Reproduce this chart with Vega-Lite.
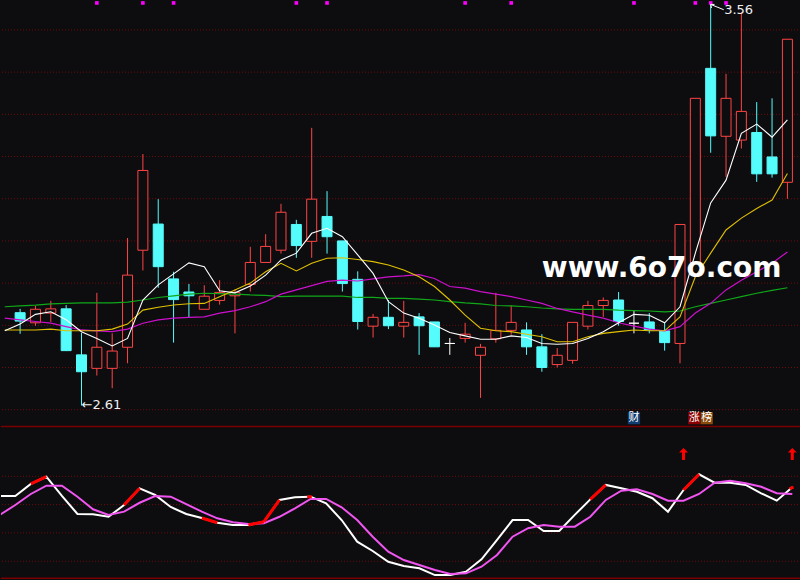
{
  "$schema": "https://vega.github.io/schema/vega-lite/v6.json",
  "background": "#0d0d10",
  "padding": 0,
  "spacing": 0,
  "bounds": "flush",
  "config": {"view": {"stroke": null}, "concat": {"spacing": 0}},
  "datasets": {
    "k": [
      {"i":0,"o":2.830,"h":2.839,"l":2.780,"c":2.810},
      {"i":1,"o":2.806,"h":2.846,"l":2.799,"c":2.838},
      {"i":2,"o":2.829,"h":2.858,"l":2.808,"c":2.839},
      {"i":3,"o":2.839,"h":2.848,"l":2.739,"c":2.740},
      {"i":4,"o":2.730,"h":2.782,"l":2.610,"c":2.690},
      {"i":5,"o":2.698,"h":2.877,"l":2.681,"c":2.748},
      {"i":6,"o":2.698,"h":2.781,"l":2.651,"c":2.739},
      {"i":7,"o":2.748,"h":3.007,"l":2.710,"c":2.919},
      {"i":8,"o":2.978,"h":3.206,"l":2.930,"c":3.167},
      {"i":9,"o":3.040,"h":3.099,"l":2.889,"c":2.939},
      {"i":10,"o":2.910,"h":2.927,"l":2.759,"c":2.861},
      {"i":11,"o":2.879,"h":2.898,"l":2.819,"c":2.870},
      {"i":12,"o":2.838,"h":2.895,"l":2.838,"c":2.869},
      {"i":13,"o":2.859,"h":2.907,"l":2.849,"c":2.878},
      {"i":14,"o":2.870,"h":2.885,"l":2.781,"c":2.878},
      {"i":15,"o":2.897,"h":2.986,"l":2.880,"c":2.949},
      {"i":16,"o":2.949,"h":3.016,"l":2.949,"c":2.987},
      {"i":17,"o":2.978,"h":3.088,"l":2.970,"c":3.068},
      {"i":18,"o":3.039,"h":3.050,"l":2.960,"c":2.989},
      {"i":19,"o":2.999,"h":3.268,"l":2.960,"c":3.099},
      {"i":20,"o":3.058,"h":3.118,"l":2.970,"c":3.010},
      {"i":21,"o":3.000,"h":3.000,"l":2.880,"c":2.899},
      {"i":22,"o":2.909,"h":2.928,"l":2.790,"c":2.809},
      {"i":23,"o":2.798,"h":2.827,"l":2.771,"c":2.819},
      {"i":24,"o":2.819,"h":2.860,"l":2.791,"c":2.799},
      {"i":25,"o":2.798,"h":2.858,"l":2.771,"c":2.807},
      {"i":26,"o":2.820,"h":2.829,"l":2.730,"c":2.799},
      {"i":27,"o":2.808,"h":2.808,"l":2.749,"c":2.749},
      {"i":28,"o":2.757,"h":2.770,"l":2.730,"c":2.757},
      {"i":29,"o":2.769,"h":2.806,"l":2.759,"c":2.779},
      {"i":30,"o":2.729,"h":2.756,"l":2.628,"c":2.748},
      {"i":31,"o":2.768,"h":2.877,"l":2.759,"c":2.788},
      {"i":32,"o":2.788,"h":2.847,"l":2.778,"c":2.807},
      {"i":33,"o":2.789,"h":2.807,"l":2.730,"c":2.749},
      {"i":34,"o":2.749,"h":2.779,"l":2.690,"c":2.700},
      {"i":35,"o":2.707,"h":2.746,"l":2.700,"c":2.729},
      {"i":36,"o":2.717,"h":2.807,"l":2.709,"c":2.807},
      {"i":37,"o":2.798,"h":2.858,"l":2.790,"c":2.847},
      {"i":38,"o":2.847,"h":2.866,"l":2.820,"c":2.859},
      {"i":39,"o":2.860,"h":2.879,"l":2.799,"c":2.809},
      {"i":40,"o":2.805,"h":2.836,"l":2.781,"c":2.805},
      {"i":41,"o":2.808,"h":2.829,"l":2.781,"c":2.789},
      {"i":42,"o":2.787,"h":2.806,"l":2.740,"c":2.759},
      {"i":43,"o":2.757,"h":3.039,"l":2.710,"c":3.039},
      {"i":44,"o":2.949,"h":3.338,"l":2.949,"c":3.338},
      {"i":45,"o":3.409,"h":3.560,"l":3.209,"c":3.249},
      {"i":46,"o":3.248,"h":3.396,"l":3.152,"c":3.338},
      {"i":47,"o":3.239,"h":3.542,"l":3.219,"c":3.307},
      {"i":48,"o":3.257,"h":3.329,"l":3.140,"c":3.159},
      {"i":49,"o":3.199,"h":3.338,"l":3.150,"c":3.159},
      {"i":50,"o":3.139,"h":3.478,"l":3.100,"c":3.478}
    ],
    "ma": [
      {"i":-1,"ma5":2.787,"ma10":2.789,"ma20":2.817,"ma60":2.844},
      {"i":0,"ma5":2.803,"ma10":2.789,"ma20":2.813,"ma60":2.846},
      {"i":1,"ma5":2.826,"ma10":2.789,"ma20":2.809,"ma60":2.848},
      {"i":2,"ma5":2.832,"ma10":2.791,"ma20":2.805,"ma60":2.851},
      {"i":3,"ma5":2.813,"ma10":2.787,"ma20":2.797,"ma60":2.852},
      {"i":4,"ma5":2.785,"ma10":2.787,"ma20":2.789,"ma60":2.853},
      {"i":5,"ma5":2.769,"ma10":2.787,"ma20":2.787,"ma60":2.853},
      {"i":6,"ma5":2.751,"ma10":2.791,"ma20":2.785,"ma60":2.853},
      {"i":7,"ma5":2.769,"ma10":2.803,"ma20":2.791,"ma60":2.855},
      {"i":8,"ma5":2.860,"ma10":2.836,"ma20":2.805,"ma60":2.860},
      {"i":9,"ma5":2.896,"ma10":2.843,"ma20":2.813,"ma60":2.866},
      {"i":10,"ma5":2.922,"ma10":2.848,"ma20":2.817,"ma60":2.870},
      {"i":11,"ma5":2.948,"ma10":2.851,"ma20":2.819,"ma60":2.874},
      {"i":12,"ma5":2.939,"ma10":2.852,"ma20":2.820,"ma60":2.876},
      {"i":13,"ma5":2.882,"ma10":2.868,"ma20":2.829,"ma60":2.875},
      {"i":14,"ma5":2.877,"ma10":2.884,"ma20":2.835,"ma60":2.874},
      {"i":15,"ma5":2.893,"ma10":2.900,"ma20":2.844,"ma60":2.872},
      {"i":16,"ma5":2.919,"ma10":2.927,"ma20":2.856,"ma60":2.871},
      {"i":17,"ma5":2.955,"ma10":2.947,"ma20":2.874,"ma60":2.868},
      {"i":18,"ma5":2.971,"ma10":2.929,"ma20":2.884,"ma60":2.869},
      {"i":19,"ma5":3.018,"ma10":2.947,"ma20":2.894,"ma60":2.869},
      {"i":20,"ma5":3.030,"ma10":2.959,"ma20":2.904,"ma60":2.869},
      {"i":21,"ma5":3.010,"ma10":2.960,"ma20":2.907,"ma60":2.869},
      {"i":22,"ma5":2.967,"ma10":2.956,"ma20":2.905,"ma60":2.866},
      {"i":23,"ma5":2.923,"ma10":2.951,"ma20":2.910,"ma60":2.866},
      {"i":24,"ma5":2.856,"ma10":2.943,"ma20":2.915,"ma60":2.864},
      {"i":25,"ma5":2.829,"ma10":2.931,"ma20":2.917,"ma60":2.864},
      {"i":26,"ma5":2.817,"ma10":2.915,"ma20":2.920,"ma60":2.862},
      {"i":27,"ma5":2.801,"ma10":2.892,"ma20":2.911,"ma60":2.860},
      {"i":28,"ma5":2.783,"ma10":2.860,"ma20":2.892,"ma60":2.856},
      {"i":29,"ma5":2.775,"ma10":2.824,"ma20":2.888,"ma60":2.853},
      {"i":30,"ma5":2.767,"ma10":2.793,"ma20":2.880,"ma60":2.851},
      {"i":31,"ma5":2.767,"ma10":2.787,"ma20":2.874,"ma60":2.847},
      {"i":32,"ma5":2.775,"ma10":2.785,"ma20":2.868,"ma60":2.846},
      {"i":33,"ma5":2.771,"ma10":2.779,"ma20":2.860,"ma60":2.844},
      {"i":34,"ma5":2.757,"ma10":2.773,"ma20":2.852,"ma60":2.841},
      {"i":35,"ma5":2.755,"ma10":2.761,"ma20":2.840,"ma60":2.839},
      {"i":36,"ma5":2.757,"ma10":2.761,"ma20":2.832,"ma60":2.838},
      {"i":37,"ma5":2.769,"ma10":2.773,"ma20":2.824,"ma60":2.838},
      {"i":38,"ma5":2.785,"ma10":2.781,"ma20":2.817,"ma60":2.838},
      {"i":39,"ma5":2.806,"ma10":2.785,"ma20":2.806,"ma60":2.836},
      {"i":40,"ma5":2.826,"ma10":2.789,"ma20":2.798,"ma60":2.835},
      {"i":41,"ma5":2.824,"ma10":2.787,"ma20":2.791,"ma60":2.834},
      {"i":42,"ma5":2.806,"ma10":2.787,"ma20":2.787,"ma60":2.832},
      {"i":43,"ma5":2.844,"ma10":2.820,"ma20":2.797,"ma60":2.834},
      {"i":44,"ma5":2.971,"ma10":2.915,"ma20":2.829,"ma60":2.844},
      {"i":45,"ma5":3.090,"ma10":2.971,"ma20":2.852,"ma60":2.852},
      {"i":46,"ma5":3.144,"ma10":3.026,"ma20":2.884,"ma60":2.860},
      {"i":47,"ma5":3.255,"ma10":3.054,"ma20":2.907,"ma60":2.868},
      {"i":48,"ma5":3.277,"ma10":3.077,"ma20":2.927,"ma60":2.876},
      {"i":49,"ma5":3.246,"ma10":3.097,"ma20":2.947,"ma60":2.883},
      {"i":50,"ma5":3.287,"ma10":3.160,"ma20":2.974,"ma60":2.889}
    ],
    "ind": [
      {"i":-1,"k":66.1,"d":52.7},{"i":0,"k":66.1,"d":59.7},{"i":1,"k":74.6,"d":67.5},
      {"i":2,"k":79.7,"d":73.4},{"i":3,"k":66.1,"d":73.4},{"i":4,"k":53.4,"d":65.6},
      {"i":5,"k":53.1,"d":56.7},{"i":6,"k":51.4,"d":52.7},{"i":7,"k":59.7,"d":55.0},
      {"i":8,"k":71.5,"d":61.3},{"i":9,"k":66.8,"d":66.1},{"i":10,"k":58.3,"d":65.6},
      {"i":11,"k":53.4,"d":60.4},{"i":12,"k":50.5,"d":55.0},{"i":13,"k":47.2,"d":50.3},
      {"i":14,"k":45.6,"d":47.5},{"i":15,"k":45.6,"d":46.3},{"i":16,"k":47.9,"d":46.8},
      {"i":17,"k":63.3,"d":51.4},{"i":18,"k":65.2,"d":57.4},{"i":19,"k":65.6,"d":64.0},
      {"i":20,"k":60.9,"d":64.0},{"i":21,"k":49.1,"d":58.1},{"i":22,"k":33.8,"d":49.1},
      {"i":23,"k":27.2,"d":37.3},{"i":24,"k":19.6,"d":26.7},{"i":25,"k":16.6,"d":20.8},
      {"i":26,"k":15.0,"d":17.3},{"i":27,"k":10.2,"d":13.8},{"i":28,"k":10.2,"d":11.0},
      {"i":29,"k":12.6,"d":11.4},{"i":30,"k":21.3,"d":16.1},{"i":31,"k":35.0,"d":24.4},
      {"i":32,"k":49.1,"d":37.3},{"i":33,"k":49.1,"d":43.3},{"i":34,"k":41.3,"d":45.6},
      {"i":35,"k":41.3,"d":44.4},{"i":36,"k":52.7,"d":44.4},{"i":37,"k":63.7,"d":51.4},
      {"i":38,"k":73.9,"d":63.3},{"i":39,"k":71.5,"d":69.8},{"i":40,"k":69.1,"d":70.8},
      {"i":41,"k":64.5,"d":67.5},{"i":42,"k":55.0,"d":62.8},{"i":43,"k":70.3,"d":62.8},
      {"i":44,"k":81.4,"d":67.5},{"i":45,"k":75.5,"d":75.5},{"i":46,"k":75.5,"d":76.9},
      {"i":47,"k":73.9,"d":75.1},{"i":48,"k":68.0,"d":72.6},{"i":49,"k":62.8,"d":68.0},
      {"i":50,"k":72.2,"d":67.5}
    ]
  },
  "vconcat": [
    {
      "width": 800,
      "height": 426,
      "layer": [
        {
          "data": {"values": [{"p":2.6},{"p":2.7},{"p":2.8},{"p":2.9},{"p":3.0},{"p":3.1},{"p":3.2},{"p":3.3},{"p":3.4},{"p":3.5}]},
          "mark": {"type": "rule", "stroke": "#6a0c0c", "strokeDash": [1, 2], "strokeWidth": 1},
          "encoding": {"y": {"field": "p", "type": "quantitative", "scale": {"domain": [2.5614, 3.571], "nice": false, "zero": false}, "axis": null}}
        },
        {
          "data": {"name": "k"},
          "transform": [{"calculate": "datum.c > datum.o ? 'up' : (datum.c < datum.o ? 'down' : 'flat')", "as": "dir"}],
          "mark": {"type": "rule", "strokeWidth": 1},
          "encoding": {
            "x": {"field": "i", "type": "quantitative", "scale": {"domain": [-0.92, 50.56], "nice": false, "zero": false}, "axis": null},
            "y": {"field": "h", "type": "quantitative", "scale": {"domain": [2.5614, 3.571], "nice": false, "zero": false}, "axis": null},
            "y2": {"field": "l"},
            "stroke": {"field": "dir", "type": "nominal", "scale": {"domain": ["up", "down", "flat"], "range": ["#ff4444", "#54fcfc", "#ffffff"]}, "legend": null}
          }
        },
        {
          "data": {"name": "k"},
          "transform": [{"calculate": "datum.c > datum.o ? 'up' : (datum.c < datum.o ? 'down' : 'flat')", "as": "dir"}],
          "mark": {"type": "bar", "size": 10, "strokeWidth": 1, "fillOpacity": 1},
          "encoding": {
            "x": {"field": "i", "type": "quantitative", "scale": {"domain": [-0.92, 50.56], "nice": false, "zero": false}, "axis": null},
            "y": {"field": "o", "type": "quantitative", "scale": {"domain": [2.5614, 3.571], "nice": false, "zero": false}, "axis": null},
            "y2": {"field": "c"},
            "fill": {"field": "dir", "type": "nominal", "scale": {"domain": ["up", "down", "flat"], "range": ["#0d0d10", "#54fcfc", "#ffffff"]}, "legend": null},
            "stroke": {"field": "dir", "type": "nominal", "scale": {"domain": ["up", "down", "flat"], "range": ["#ff4444", "#54fcfc", "#ffffff"]}, "legend": null}
          }
        },
        {
          "data": {"name": "ma"},
          "mark": {"type": "line", "stroke": "#10a818", "strokeWidth": 1.2, "clip": true},
          "encoding": {
            "x": {"field": "i", "type": "quantitative", "scale": {"domain": [-0.92, 50.56], "nice": false, "zero": false}, "axis": null},
            "y": {"field": "ma60", "type": "quantitative", "scale": {"domain": [2.5614, 3.571], "nice": false, "zero": false}, "axis": null}
          }
        },
        {
          "data": {"name": "ma"},
          "mark": {"type": "line", "stroke": "#cc10cc", "strokeWidth": 1.2, "clip": true},
          "encoding": {
            "x": {"field": "i", "type": "quantitative", "scale": {"domain": [-0.92, 50.56], "nice": false, "zero": false}, "axis": null},
            "y": {"field": "ma20", "type": "quantitative", "scale": {"domain": [2.5614, 3.571], "nice": false, "zero": false}, "axis": null}
          }
        },
        {
          "data": {"name": "ma"},
          "mark": {"type": "line", "stroke": "#e0c000", "strokeWidth": 1.1, "clip": true},
          "encoding": {
            "x": {"field": "i", "type": "quantitative", "scale": {"domain": [-0.92, 50.56], "nice": false, "zero": false}, "axis": null},
            "y": {"field": "ma10", "type": "quantitative", "scale": {"domain": [2.5614, 3.571], "nice": false, "zero": false}, "axis": null}
          }
        },
        {
          "data": {"name": "ma"},
          "mark": {"type": "line", "stroke": "#ffffff", "strokeWidth": 1.1, "clip": true},
          "encoding": {
            "x": {"field": "i", "type": "quantitative", "scale": {"domain": [-0.92, 50.56], "nice": false, "zero": false}, "axis": null},
            "y": {"field": "ma5", "type": "quantitative", "scale": {"domain": [2.5614, 3.571], "nice": false, "zero": false}, "axis": null}
          }
        },
        {
          "data": {"values": [{"i":5},{"i":8},{"i":10},{"i":18},{"i":20},{"i":29},{"i":32},{"i":40},{"i":44},{"i":45},{"i":46}]},
          "mark": {"type": "point", "shape": "square", "filled": true, "size": 13, "color": "#ff00ff", "opacity": 1},
          "encoding": {
            "x": {"field": "i", "type": "quantitative", "scale": {"domain": [-0.92, 50.56], "nice": false, "zero": false}, "axis": null},
            "y": {"datum": 3.564, "type": "quantitative", "scale": {"domain": [2.5614, 3.571], "nice": false, "zero": false}, "axis": null}
          }
        },
        {
          "data": {"values": [
            {"i":45.0,"p":3.5605,"i2":45.85,"p2":3.548},
            {"i":45.0,"p":3.5605,"i2":45.25,"p2":3.5605},
            {"i":45.0,"p":3.5605,"i2":45.05,"p2":3.552}
          ]},
          "mark": {"type": "rule", "stroke": "#ffffff", "strokeWidth": 1},
          "encoding": {
            "x": {"field": "i", "type": "quantitative", "scale": {"domain": [-0.92, 50.56], "nice": false, "zero": false}, "axis": null},
            "x2": {"field": "i2"},
            "y": {"field": "p", "type": "quantitative", "scale": {"domain": [2.5614, 3.571], "nice": false, "zero": false}, "axis": null},
            "y2": {"field": "p2"}
          }
        },
        {
          "data": {"values": [{"i":45.88,"p":3.547,"t":"3.56"},{"i":4.0,"p":2.610,"t":"←2.61"}]},
          "mark": {"type": "text", "align": "left", "baseline": "middle", "font": "DejaVu Sans", "fontSize": 13, "fill": "#f0f0f0"},
          "encoding": {
            "x": {"field": "i", "type": "quantitative", "scale": {"domain": [-0.92, 50.56], "nice": false, "zero": false}, "axis": null},
            "y": {"field": "p", "type": "quantitative", "scale": {"domain": [2.5614, 3.571], "nice": false, "zero": false}, "axis": null},
            "text": {"field": "t"}
          }
        },
        {
          "data": {"values": [{"t": "www.6o7o.com"}]},
          "mark": {"type": "text", "align": "left", "baseline": "middle", "font": "DejaVu Sans", "fontWeight": "bold", "fontSize": 28, "fill": "#ffffff"},
          "encoding": {
            "x": {"datum": 34.0, "type": "quantitative", "scale": {"domain": [-0.92, 50.56], "nice": false, "zero": false}, "axis": null},
            "y": {"datum": 2.933, "type": "quantitative", "scale": {"domain": [2.5614, 3.571], "nice": false, "zero": false}, "axis": null},
            "text": {"field": "t"}
          }
        },
        {
          "data": {"values": [{"i":40,"t":"财"},{"i":43.93,"t":"涨"},{"i":44.74,"t":"榜"}]},
          "mark": {"type": "point", "shape": "square", "filled": true, "size": 150, "opacity": 1},
          "encoding": {
            "x": {"field": "i", "type": "quantitative", "scale": {"domain": [-0.92, 50.56], "nice": false, "zero": false}, "axis": null},
            "y": {"datum": 2.580, "type": "quantitative", "scale": {"domain": [2.5614, 3.571], "nice": false, "zero": false}, "axis": null},
            "color": {"field": "t", "type": "nominal", "scale": {"domain": ["财", "涨", "榜"], "range": ["#103c70", "#8a0000", "#8a4a0a"]}, "legend": null}
          }
        },
        {
          "data": {"values": [{"i":40,"t":"财"},{"i":43.93,"t":"涨"},{"i":44.74,"t":"榜"}]},
          "mark": {"type": "text", "align": "center", "baseline": "middle", "font": "Noto Sans CJK SC", "fontSize": 11, "fill": "#ffffff"},
          "encoding": {
            "x": {"field": "i", "type": "quantitative", "scale": {"domain": [-0.92, 50.56], "nice": false, "zero": false}, "axis": null},
            "y": {"datum": 2.580, "type": "quantitative", "scale": {"domain": [2.5614, 3.571], "nice": false, "zero": false}, "axis": null},
            "text": {"field": "t"}
          }
        }
      ]
    },
    {
      "width": 800,
      "height": 154,
      "layer": [
        {
          "data": {"values": [{"v":20},{"v":40},{"v":60},{"v":80}]},
          "mark": {"type": "rule", "stroke": "#6a0c0c", "strokeDash": [1, 2], "strokeWidth": 1},
          "encoding": {"y": {"field": "v", "type": "quantitative", "scale": {"domain": [6.71, 115.55], "nice": false, "zero": false}, "axis": null}}
        },
        {
          "data": {"values": [{"v":115.2},{"v":7.9}]},
          "mark": {"type": "rule", "stroke": "#7a0000", "strokeWidth": 1.5},
          "encoding": {"y": {"field": "v", "type": "quantitative", "scale": {"domain": [6.71, 115.55], "nice": false, "zero": false}, "axis": null}}
        },
        {
          "data": {"name": "ind"},
          "mark": {"type": "line", "stroke": "#ffffff", "strokeWidth": 2, "clip": true},
          "encoding": {
            "x": {"field": "i", "type": "quantitative", "scale": {"domain": [-0.92, 50.56], "nice": false, "zero": false}, "axis": null},
            "y": {"field": "k", "type": "quantitative", "scale": {"domain": [6.71, 115.55], "nice": false, "zero": false}, "axis": null}
          }
        },
        {
          "data": {"name": "ind"},
          "mark": {"type": "line", "stroke": "#f055f0", "strokeWidth": 2, "clip": true},
          "encoding": {
            "x": {"field": "i", "type": "quantitative", "scale": {"domain": [-0.92, 50.56], "nice": false, "zero": false}, "axis": null},
            "y": {"field": "d", "type": "quantitative", "scale": {"domain": [6.71, 115.55], "nice": false, "zero": false}, "axis": null}
          }
        },
        {
          "data": {"values": [
            {"i":1,"i2":2,"v":74.6,"v2":79.7},
            {"i":7,"i2":8,"v":59.7,"v2":71.5},
            {"i":12,"i2":13,"v":50.5,"v2":47.2},
            {"i":15,"i2":16,"v":45.6,"v2":47.9},
            {"i":16,"i2":17,"v":47.9,"v2":63.3},
            {"i":18.78,"i2":19.08,"v":65.5,"v2":65.5},
            {"i":37,"i2":38,"v":63.7,"v2":73.9},
            {"i":43,"i2":44,"v":70.3,"v2":81.4},
            {"i":49.82,"i2":50.08,"v":71.3,"v2":72.3}
          ]},
          "mark": {"type": "rule", "stroke": "#ff0000", "strokeWidth": 3},
          "encoding": {
            "x": {"field": "i", "type": "quantitative", "scale": {"domain": [-0.92, 50.56], "nice": false, "zero": false}, "axis": null},
            "x2": {"field": "i2"},
            "y": {"field": "v", "type": "quantitative", "scale": {"domain": [6.71, 115.55], "nice": false, "zero": false}, "axis": null},
            "y2": {"field": "v2"}
          }
        },
        {
          "data": {"values": [{"i":43},{"i":50}]},
          "mark": {"type": "point", "shape": "M0,-1L0.75,-0.25L0.25,-0.25L0.25,1L-0.25,1L-0.25,-0.25L-0.75,-0.25Z", "filled": true, "size": 144, "color": "#ff0000", "opacity": 1},
          "encoding": {
            "x": {"field": "i", "type": "quantitative", "scale": {"domain": [-0.92, 50.56], "nice": false, "zero": false}, "axis": null},
            "y": {"datum": 95.8, "type": "quantitative", "scale": {"domain": [6.71, 115.55], "nice": false, "zero": false}, "axis": null}
          }
        }
      ]
    }
  ]
}
